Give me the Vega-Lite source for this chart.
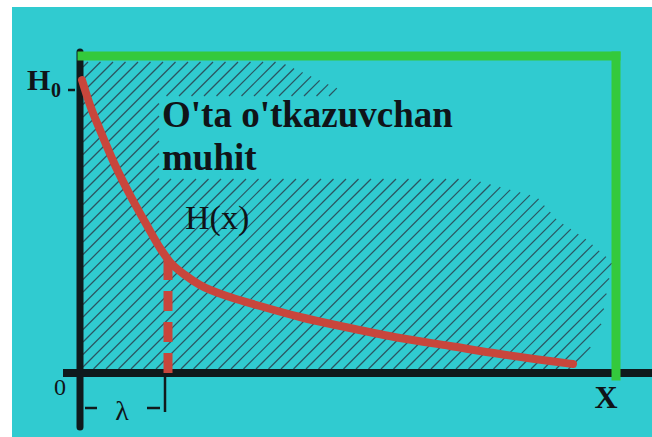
{
  "$schema": "https://vega.github.io/schema/vega-lite/v6.json",
  "width": 640,
  "height": 430,
  "autosize": {"type": "none"},
  "padding": {"left": 12, "top": 7, "right": 0, "bottom": 0},
  "background": "white",
  "view": {"fill": "#30cbd0", "stroke": null},
  "datasets": {
    "hatch": [
      {"x": 4, "y": 306, "x2": 9, "y2": 311},
      {"x": 4, "y": 293.5, "x2": 21.5, "y2": 311},
      {"x": 4, "y": 281, "x2": 34, "y2": 311},
      {"x": 4, "y": 268.5, "x2": 46.5, "y2": 311},
      {"x": 4, "y": 256, "x2": 59, "y2": 311},
      {"x": 4, "y": 243.5, "x2": 71.5, "y2": 311},
      {"x": 4, "y": 231, "x2": 84, "y2": 311},
      {"x": 4, "y": 218.5, "x2": 96.5, "y2": 311},
      {"x": 4, "y": 206, "x2": 109, "y2": 311},
      {"x": 4, "y": 193.5, "x2": 80, "y2": 269.5},
      {"x": 87.5, "y": 277, "x2": 121.5, "y2": 311},
      {"x": 4, "y": 181, "x2": 80, "y2": 257},
      {"x": 100, "y": 277, "x2": 134, "y2": 311},
      {"x": 4, "y": 168.5, "x2": 80, "y2": 244.5},
      {"x": 112.5, "y": 277, "x2": 146.5, "y2": 311},
      {"x": 4, "y": 156, "x2": 80, "y2": 232},
      {"x": 125, "y": 277, "x2": 159, "y2": 311},
      {"x": 4, "y": 143.5, "x2": 80, "y2": 219.5},
      {"x": 137.5, "y": 277, "x2": 171.5, "y2": 311},
      {"x": 4, "y": 131, "x2": 80, "y2": 207},
      {"x": 150, "y": 277, "x2": 184, "y2": 311},
      {"x": 4, "y": 118.5, "x2": 80, "y2": 194.5},
      {"x": 162.5, "y": 277, "x2": 196.5, "y2": 311},
      {"x": 4, "y": 106, "x2": 92, "y2": 194},
      {"x": 175, "y": 277, "x2": 206.5, "y2": 308.5},
      {"x": 4, "y": 93.5, "x2": 104.5, "y2": 194},
      {"x": 187.5, "y": 277, "x2": 215, "y2": 304.5},
      {"x": 4, "y": 81, "x2": 117, "y2": 194},
      {"x": 200, "y": 277, "x2": 223.6, "y2": 300.6},
      {"x": 4, "y": 68.5, "x2": 129.5, "y2": 194},
      {"x": 212.5, "y": 277, "x2": 232.1, "y2": 296.6},
      {"x": 4, "y": 56, "x2": 142, "y2": 194},
      {"x": 225, "y": 277, "x2": 240.7, "y2": 292.7},
      {"x": 4, "y": 43.5, "x2": 154.5, "y2": 194},
      {"x": 237.5, "y": 277, "x2": 249.2, "y2": 288.7},
      {"x": 4, "y": 31, "x2": 167, "y2": 194},
      {"x": 250, "y": 277, "x2": 257.8, "y2": 284.8},
      {"x": 4, "y": 18.5, "x2": 179.5, "y2": 194},
      {"x": 4, "y": 6, "x2": 192, "y2": 194},
      {"x": 14.5, "y": 4, "x2": 204.5, "y2": 194},
      {"x": 27, "y": 4, "x2": 217, "y2": 194},
      {"x": 39.5, "y": 4, "x2": 229.5, "y2": 194},
      {"x": 52, "y": 4, "x2": 242, "y2": 194},
      {"x": 64.5, "y": 4, "x2": 254.5, "y2": 194},
      {"x": 77, "y": 4, "x2": 267, "y2": 194},
      {"x": 89.5, "y": 4, "x2": 279.5, "y2": 194},
      {"x": 102, "y": 4, "x2": 292, "y2": 194},
      {"x": 114.5, "y": 4, "x2": 304.5, "y2": 194},
      {"x": 127, "y": 4, "x2": 317, "y2": 194},
      {"x": 139.5, "y": 4, "x2": 329.5, "y2": 194},
      {"x": 152, "y": 4, "x2": 342, "y2": 194},
      {"x": 164.5, "y": 4, "x2": 354.5, "y2": 194},
      {"x": 177, "y": 4, "x2": 367, "y2": 194},
      {"x": 189.5, "y": 4, "x2": 379.5, "y2": 194},
      {"x": 202, "y": 4, "x2": 391.8, "y2": 193.8},
      {"x": 214.5, "y": 4, "x2": 401.6, "y2": 191.1},
      {"x": 227, "y": 4, "x2": 411.5, "y2": 188.5},
      {"x": 239.5, "y": 4, "x2": 421.3, "y2": 185.8},
      {"x": 252, "y": 4, "x2": 431.2, "y2": 183.2},
      {"x": 264.5, "y": 4, "x2": 441.1, "y2": 180.6},
      {"x": 277, "y": 4, "x2": 450.9, "y2": 177.9},
      {"x": 289.5, "y": 4, "x2": 459.6, "y2": 174.1},
      {"x": 302, "y": 4, "x2": 465.4, "y2": 167.4},
      {"x": 314.5, "y": 4, "x2": 471.3, "y2": 160.8},
      {"x": 327, "y": 4, "x2": 477.1, "y2": 154.1},
      {"x": 339.5, "y": 4, "x2": 484.3, "y2": 148.8},
      {"x": 352, "y": 4, "x2": 491.8, "y2": 143.8},
      {"x": 364.5, "y": 4, "x2": 499.3, "y2": 138.8},
      {"x": 377, "y": 4, "x2": 506.8, "y2": 133.8},
      {"x": 389.5, "y": 4, "x2": 513.6, "y2": 128.1},
      {"x": 402, "y": 4, "x2": 520.2, "y2": 122.2},
      {"x": 414.5, "y": 4, "x2": 526.9, "y2": 116.4},
      {"x": 427, "y": 4, "x2": 532.8, "y2": 109.8},
      {"x": 439.5, "y": 4, "x2": 530.1, "y2": 94.6},
      {"x": 452, "y": 4, "x2": 527.4, "y2": 79.4},
      {"x": 464.5, "y": 4, "x2": 524.8, "y2": 64.3},
      {"x": 477, "y": 4, "x2": 522.1, "y2": 49.1},
      {"x": 489.5, "y": 4, "x2": 511.3, "y2": 25.8}
    ],
    "curve": [
      {"x": 3, "y": 293}, {"x": 11, "y": 268}, {"x": 21, "y": 243}, {"x": 36, "y": 208},
      {"x": 51, "y": 178}, {"x": 66, "y": 151}, {"x": 81, "y": 125}, {"x": 91, "y": 111},
      {"x": 106, "y": 98}, {"x": 121, "y": 88}, {"x": 151, "y": 76}, {"x": 181, "y": 67},
      {"x": 221, "y": 56}, {"x": 271, "y": 45}, {"x": 321, "y": 35}, {"x": 371, "y": 27},
      {"x": 421, "y": 19}, {"x": 471, "y": 12}, {"x": 494, "y": 9}
    ],
    "axisV": [{"x": 1, "y": 321, "x2": 1, "y2": -54}],
    "axisH": [{"x": -16, "y": 0, "x2": 573, "y2": 0}],
    "frame": [
      {"x": 3, "y": 317, "x2": 537, "y2": 317},
      {"x": 537, "y": 317, "x2": 537, "y2": -3}
    ],
    "lambdaDrop": [{"x": 89, "y": 113, "x2": 89, "y2": -4}],
    "thin": [
      {"x": 86, "y": -4, "x2": 86, "y2": -39},
      {"x": 6, "y": -35, "x2": 18, "y2": -35},
      {"x": 68, "y": -35, "x2": 81, "y2": -35},
      {"x": -11, "y": 283, "x2": -4, "y2": 283}
    ],
    "title": [
      {"x": 83, "y": 246, "label": "O'ta o'tkazuvchan"},
      {"x": 83, "y": 203, "label": "muhit"}
    ],
    "hLabel": [{"x": -52, "y": 283, "label": "H"}],
    "hSub": [{"x": -28, "y": 276, "label": "0"}],
    "hx": [{"x": 106, "y": 144, "label": "H(x)"}],
    "origin": [{"x": -19, "y": -22, "label": "0"}],
    "xLabel": [{"x": 527, "y": -35, "label": "X"}],
    "lam": [{"x": 43, "y": -47, "label": "λ"}]
  },
  "encoding": {
    "x": {"field": "x", "type": "quantitative", "scale": {"domain": [-67, 573], "nice": false, "zero": false}, "axis": null},
    "y": {"field": "y", "type": "quantitative", "scale": {"domain": [-64, 366], "nice": false, "zero": false}, "axis": null}
  },
  "layer": [
    {
      "data": {"name": "hatch"},
      "mark": {"type": "rule", "color": "#2a3f4c", "strokeWidth": 1.2, "opacity": 0.85},
      "encoding": {"x2": {"field": "x2"}, "y2": {"field": "y2"}}
    },
    {
      "data": {"name": "axisV"},
      "mark": {"type": "rule", "color": "#0f1a1c", "strokeWidth": 7, "strokeCap": "round"},
      "encoding": {"x2": {"field": "x2"}, "y2": {"field": "y2"}}
    },
    {
      "data": {"name": "axisH"},
      "mark": {"type": "rule", "color": "#0f1a1c", "strokeWidth": 8},
      "encoding": {"x2": {"field": "x2"}, "y2": {"field": "y2"}}
    },
    {
      "data": {"name": "frame"},
      "mark": {"type": "rule", "color": "#34c93c", "strokeWidth": 9, "strokeCap": "square"},
      "encoding": {"x2": {"field": "x2"}, "y2": {"field": "y2"}}
    },
    {
      "data": {"name": "thin"},
      "mark": {"type": "rule", "color": "#111a1c", "strokeWidth": 2.5},
      "encoding": {"x2": {"field": "x2"}, "y2": {"field": "y2"}}
    },
    {
      "data": {"name": "lambdaDrop"},
      "mark": {"type": "rule", "color": "#c8463c", "strokeWidth": 9, "strokeDash": [20, 11]},
      "encoding": {"x2": {"field": "x2"}, "y2": {"field": "y2"}}
    },
    {
      "data": {"name": "curve"},
      "mark": {"type": "line", "color": "#c8463c", "strokeWidth": 8, "strokeCap": "round", "interpolate": "monotone"},
      "encoding": {}
    },
    {
      "data": {"name": "title"},
      "mark": {"type": "text", "font": "Liberation Serif", "fontWeight": "bold", "fontSize": 37, "align": "left", "baseline": "alphabetic", "color": "#101418"},
      "encoding": {"text": {"field": "label"}}
    },
    {
      "data": {"name": "hLabel"},
      "mark": {"type": "text", "font": "Liberation Serif", "fontWeight": "bold", "fontSize": 30, "align": "left", "baseline": "alphabetic", "color": "#101418"},
      "encoding": {"text": {"field": "label"}}
    },
    {
      "data": {"name": "hSub"},
      "mark": {"type": "text", "font": "Liberation Serif", "fontWeight": "bold", "fontSize": 20, "align": "left", "baseline": "alphabetic", "color": "#101418"},
      "encoding": {"text": {"field": "label"}}
    },
    {
      "data": {"name": "hx"},
      "mark": {"type": "text", "font": "Liberation Serif", "fontSize": 34, "align": "left", "baseline": "alphabetic", "color": "#101418"},
      "encoding": {"text": {"field": "label"}}
    },
    {
      "data": {"name": "origin"},
      "mark": {"type": "text", "font": "Liberation Serif", "fontSize": 24, "align": "center", "baseline": "alphabetic", "color": "#101418"},
      "encoding": {"text": {"field": "label"}}
    },
    {
      "data": {"name": "xLabel"},
      "mark": {"type": "text", "font": "Liberation Serif", "fontWeight": "bold", "fontSize": 32, "align": "center", "baseline": "alphabetic", "color": "#101418"},
      "encoding": {"text": {"field": "label"}}
    },
    {
      "data": {"name": "lam"},
      "mark": {"type": "text", "font": "Liberation Serif", "fontSize": 28, "align": "center", "baseline": "alphabetic", "color": "#101418"},
      "encoding": {"text": {"field": "label"}}
    }
  ]
}
